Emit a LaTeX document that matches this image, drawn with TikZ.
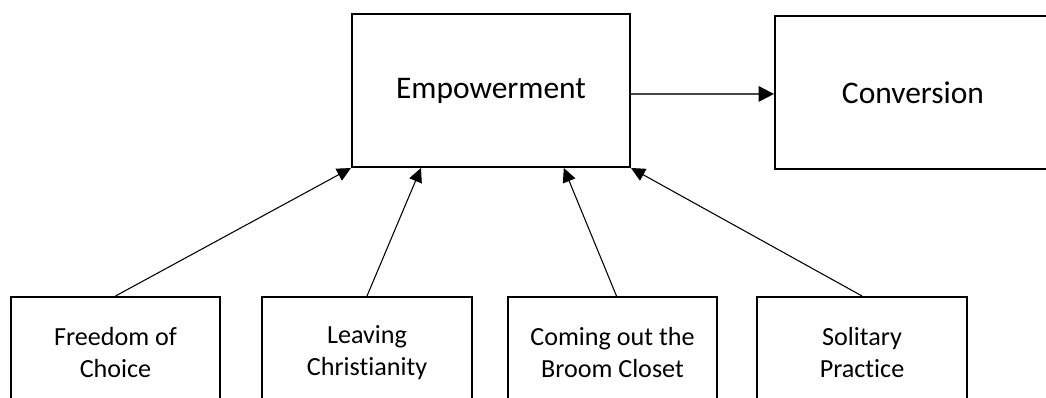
\documentclass[tikz,border=0pt]{standalone}
\usepackage{fontspec}
\setmainfont{Carlito}[Ligatures=NoCommon]
\usetikzlibrary{arrows.meta,calc}
\tikzset{
  bigbox/.style={draw=black, line width=1.5pt, minimum height=114.75pt, inner sep=0pt, font=\fontsize{23.6pt}{28pt}\selectfont},
  smallbox/.style={draw=black, line width=1.5pt, minimum width=157pt, minimum height=83.25pt, inner sep=0pt, align=center, font=\fontsize{19.6pt}{24pt}\selectfont},
  link/.style={line width=0.8pt, -{Triangle[length=10.5pt,width=10pt]}},
  mainlink/.style={draw=black!72, line width=1.4pt, -{Triangle[length=11.5pt,width=11.5pt,color=black,fill=black]}}
}
\begin{document}
\begin{tikzpicture}[x=0.75pt,y=-0.75pt]
\useasboundingbox (0,0) rectangle (1046,398);
\clip (0,0) rectangle (1046,398);
\node[bigbox, minimum width=208.5pt] (emp) at (491,90.5) {Empowerment};
\node[bigbox, minimum width=207pt] (conv) at (913,92.5) {Conversion};
\node[smallbox] (free) at (115.5,352.5) {Freedom of\\Choice};
\node[smallbox] (leave) at (367,352.5) {Leaving\\Christianity};
\node[smallbox] (come) at (612.5,352.5) {Coming out the\\Broom Closet};
\node[smallbox] (sol) at (862,352.5) {Solitary\\Practice};
\coordinate (e1) at ($(emp.south west)!0.25!(emp.south east)$);
\coordinate (e3) at ($(emp.south west)!0.76!(emp.south east)$);
\draw[link] (free.north) -- (emp.south west);
\draw[link] (leave.north) -- (e1);
\draw[link] ([xshift=3pt]come.north) -- (e3);
\draw[link] (sol.north) -- (emp.south east);
\draw[mainlink] ([yshift=-2.6pt]emp.east) -- ([yshift=-2.6pt]emp.east -| conv.west);
\end{tikzpicture}
\end{document}
